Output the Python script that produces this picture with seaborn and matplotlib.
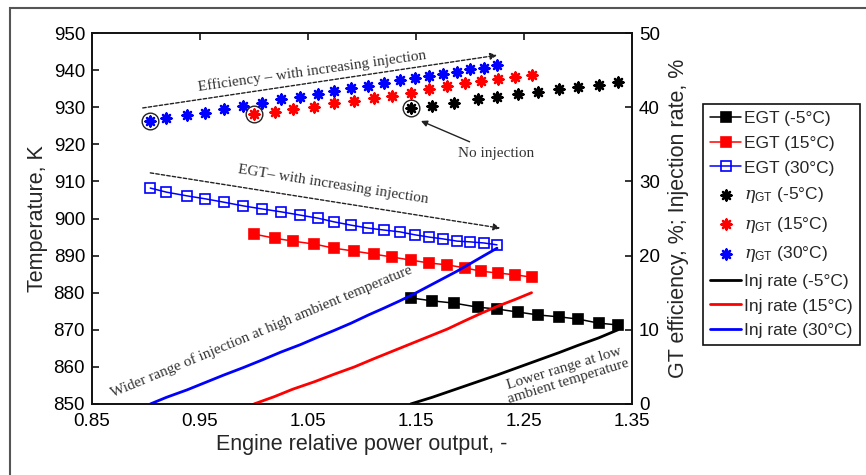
import numpy as np
import pandas as pd
import matplotlib
matplotlib.use('Agg')
import matplotlib.pyplot as plt
from matplotlib.patches import Rectangle
import seaborn as sns

# data (x = engine relative power output)
x_m5 = [1.145, 1.165, 1.185, 1.207, 1.225, 1.244, 1.263, 1.282, 1.300, 1.319, 1.337]
x_15 = [1.000, 1.019, 1.036, 1.056, 1.074, 1.093, 1.111, 1.128, 1.145, 1.162, 1.179,
        1.195, 1.210, 1.226, 1.242, 1.257]
x_30 = [0.904, 0.919, 0.938, 0.955, 0.972, 0.990, 1.007, 1.025, 1.043, 1.059, 1.074,
        1.090, 1.106, 1.120, 1.135, 1.149, 1.162, 1.175, 1.188, 1.200, 1.213, 1.225]

# exhaust gas temperature, K
egt_m5 = [878.6, 877.8, 877.2, 876.1, 875.6, 874.8, 874.0, 873.5, 872.9, 871.8, 871.3]
egt_15 = [895.8, 894.7, 893.9, 893.1, 892.0, 891.2, 890.4, 889.6, 888.8, 888.0, 887.5,
          886.7, 885.8, 885.3, 884.8, 884.2]
egt_30 = [908.2, 907.1, 906.1, 905.3, 904.4, 903.4, 902.6, 901.8, 900.9, 900.1, 899.1,
          898.2, 897.4, 896.9, 896.4, 895.6, 895.0, 894.5, 893.9, 893.7, 893.4, 892.9]

# GT efficiency, %
eta_m5 = [39.9, 40.2, 40.6, 41.1, 41.4, 41.8, 42.0, 42.5, 42.7, 43.0, 43.4]
eta_15 = [39.1, 39.4, 39.8, 40.0, 40.6, 40.8, 41.2, 41.5, 41.9, 42.5, 42.9,
          43.3, 43.5, 43.8, 44.1, 44.3]
eta_30 = [38.1, 38.5, 38.9, 39.2, 39.8, 40.2, 40.6, 41.1, 41.4, 41.8, 42.2,
          42.6, 42.9, 43.3, 43.7, 43.9, 44.2, 44.5, 44.7, 45.1, 45.3, 45.7]

# injection rate, %
inj_m5 = [0.0, 0.9, 1.9, 3.0, 3.9, 4.9, 5.9, 6.9, 7.9, 8.9, 10.0]
inj_15 = [0.0, 1.0, 2.0, 3.0, 4.0, 5.0, 6.1, 7.1, 8.1, 9.1, 10.1,
          11.2, 12.2, 13.2, 14.1, 15.0]
inj_30 = [0.0, 0.9, 1.9, 2.9, 3.9, 4.9, 5.9, 7.0, 8.0, 9.0, 9.9,
          10.9, 12.0, 12.9, 13.9, 14.9, 15.9, 16.9, 17.9, 18.9, 20.0, 21.0]

temps = ['-5°C', '15°C', '30°C']
colors = ['#000000', '#ff0000', '#0000ff']

sns.set_style('white')
plt.rcParams['font.family'] = ['Liberation Sans', 'DejaVu Sans']
plt.rcParams['mathtext.fontset'] = 'custom'
plt.rcParams['mathtext.rm'] = 'Liberation Sans'
plt.rcParams['mathtext.it'] = 'DejaVu Serif:italic'

fig = plt.figure(figsize=(8.66, 4.75), dpi=100)
ax = fig.add_axes([0.1062, 0.1495, 0.6236, 0.781])
ax2 = ax.twinx()

star = (8, 2, 0)
xs = [x_m5, x_15, x_30]
egts = [egt_m5, egt_15, egt_30]
etas = [eta_m5, eta_15, eta_30]
injs = [inj_m5, inj_15, inj_30]

for i in range(3):
    mfc = 'none' if i == 2 else colors[i]
    sns.lineplot(x=xs[i], y=egts[i], ax=ax, color=colors[i], marker='s', markersize=6.5,
                 markerfacecolor=mfc, markeredgecolor=colors[i], markeredgewidth=1.2,
                 linewidth=1.1, label='EGT (' + temps[i] + ')')
for i in range(3):
    sns.scatterplot(x=xs[i], y=etas[i], ax=ax2, marker=star, s=50, color=colors[i],
                    edgecolor=colors[i], linewidth=1.8,
                    label=r'$\eta_{\mathrm{GT}}$ (' + temps[i] + ')')
    # circle round the no-injection point
    ax2.plot(xs[i][:1], etas[i][:1], marker='o', ms=12, mfc='none', mec='#222222', mew=1)
for i in range(3):
    sns.lineplot(x=xs[i], y=injs[i], ax=ax2, color=colors[i], linewidth=2,
                 label='Inj rate (' + temps[i] + ')')

h1, l1 = ax.get_legend_handles_labels()
h2, l2 = ax2.get_legend_handles_labels()
for a in (ax, ax2):
    if a.get_legend() is not None:
        a.get_legend().remove()

ax.set_xlim(0.85, 1.35)
ax.set_ylim(850, 950)
ax2.set_ylim(0, 50)
ax.set_xticks(np.arange(0.85, 1.36, 0.1))
ax.set_xticklabels(['0.85', '0.95', '1.05', '1.15', '1.25', '1.35'])
ax.set_yticks(np.arange(850, 951, 10))
ax2.set_yticks(np.arange(0, 51, 10))

ax.tick_params(direction='in', top=True, right=False, labelsize=13.5, length=5,
               width=1.1, pad=5, colors='k')
ax.tick_params(axis='x', pad=6.5)
ax2.tick_params(direction='in', labelsize=13.5, length=5, width=1.1, pad=5, colors='k')
for a in (ax, ax2):
    for s in a.spines.values():
        s.set_color('#111111')
        s.set_linewidth(1.2)

ax.set_xlabel('Engine relative power output, -', fontsize=15.5, labelpad=3)
ax.set_ylabel('Temperature, K', fontsize=15.5, labelpad=4)
ax2.set_ylabel('GT efficiency, %; Injection rate, %', fontsize=15.5, labelpad=6)

# annotations
serif = ['Liberation Serif', 'DejaVu Serif']
tc = '#333333'
fs = 11
dash = dict(arrowstyle='-|>', linestyle=(0, (2.5, 1.5)), color='#222222', lw=1,
            mutation_scale=10, shrinkA=0, shrinkB=0)
ax.annotate('', xy=(1.225, 944.0), xytext=(0.897, 929.8), arrowprops=dash)
ax.text(1.054, 939.8, 'Efficiency – with increasing injection', rotation=8,
        rotation_mode='anchor', ha='center', va='center', fontsize=fs, color=tc,
        family=serif)
ax.annotate('', xy=(1.228, 897.4), xytext=(0.904, 912.3), arrowprops=dash)
ax.text(1.073, 909.2, 'EGT– with increasing injection', rotation=-9,
        rotation_mode='anchor', ha='center', va='center', fontsize=fs, color=tc,
        family=serif)
ax.annotate('No injection', xy=(1.1546, 926.3), xytext=(1.189, 917.6), ha='left',
            va='center', fontsize=fs, color=tc, family=serif,
            arrowprops=dict(arrowstyle='-|>', color='#222222', lw=1, mutation_scale=9,
                            shrinkA=3, shrinkB=0))
ax.text(1.007, 869.6, 'Wider range of injection at high ambient temperature', rotation=22.5,
        rotation_mode='anchor', ha='center', va='center', fontsize=fs, color=tc,
        family=serif)
ax.text(1.289, 857.8, 'Lower range at low\nambient temperature', rotation=17,
        rotation_mode='anchor', ha='center', va='center', fontsize=fs, color=tc,
        family=serif, linespacing=1.05)

leg = fig.legend(h1 + h2, l1 + l2, loc='upper left', bbox_to_anchor=(0.812, 0.781),
                 fontsize=12.5, frameon=True, fancybox=False, edgecolor='#111111',
                 framealpha=1, handlelength=1.8, handletextpad=0.15, labelspacing=0.55,
                 borderpad=0.4, borderaxespad=0, scatterpoints=1, numpoints=1)
leg.get_frame().set_linewidth(1.2)

# outer frame of the figure panel
fig.patches.append(Rectangle((10 / 866, -0.03), 1.01, 1.0131, transform=fig.transFigure,
                             fill=False, edgecolor='#555555', lw=1.5))

fig.savefig('out.png', dpi=100)
